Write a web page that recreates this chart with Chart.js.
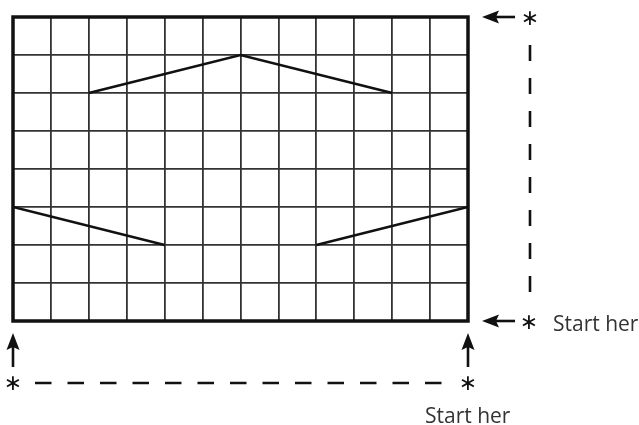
<!DOCTYPE html>
<html>
<head>
<meta charset="utf-8">
<script src="https://cdn.jsdelivr.net/npm/chart.js@4"></script>
<style>
  html, body { margin: 0; padding: 0; background: #fff; }
  canvas { display: block; }
</style>
</head>
<body>
<canvas id="c" width="639" height="425"></canvas>
<script>
// Grid extents (grid units)
const xTicks = [0, 12];
const yTicks = [0, 8];
// Series (grid coordinates)
const upperX = [2, 6, 10];
const upperY = [6, 7, 6];
const leftX = [0, 4];
const leftY = [3, 2];
const rightX = [8, 12];
const rightY = [2, 3];
// Labels
const startLabel = "Start her";
const starLabel = "\u2217";

function pts(xs, ys) { return xs.map((x, i) => ({ x: x, y: ys[i] })); }

const lineStyle = {
  showLine: true, borderColor: '#111', borderWidth: 2.6,
  pointRadius: 0, fill: false, tension: 0
};

function arrow(ctx, x1, y1, x2, y2) {
  // shaft from (x1,y1) to tip (x2,y2)
  const dx = x2 - x1, dy = y2 - y1;
  const len = Math.hypot(dx, dy);
  const ux = dx / len, uy = dy / len;   // direction
  const px = -uy, py = ux;              // perpendicular
  const headLen = 17, headW = 6.5, notch = 3;
  const bx = x2 - headLen * ux, by = y2 - headLen * uy;
  ctx.beginPath();
  ctx.moveTo(x1, y1);
  ctx.lineTo(bx + notch * ux, by + notch * uy);
  ctx.lineWidth = 2.6;
  ctx.strokeStyle = '#111';
  ctx.stroke();
  ctx.beginPath();
  ctx.moveTo(x2, y2);
  ctx.lineTo(bx + headW * px, by + headW * py);
  ctx.lineTo(bx + notch * ux, by + notch * uy);
  ctx.lineTo(bx - headW * px, by - headW * py);
  ctx.closePath();
  ctx.fillStyle = '#111';
  ctx.fill();
}

function star(ctx, x, y) {
  ctx.font = '22px "DejaVu Sans"';
  ctx.fillStyle = '#111';
  ctx.textAlign = 'center';
  ctx.textBaseline = 'middle';
  ctx.fillText(starLabel, x, y + 1);
}

const decor = {
  id: 'decor',
  afterDraw(chart) {
    const ctx = chart.ctx;
    const a = chart.chartArea;
    ctx.save();
    // frame
    ctx.strokeStyle = '#111';
    ctx.lineWidth = 3.5;
    ctx.strokeRect(a.left, a.top, a.right - a.left, a.bottom - a.top);

    // right-side arrows
    arrow(ctx, a.right + 47, a.top, a.right + 14, a.top);
    arrow(ctx, a.right + 47, a.bottom, a.right + 14, a.bottom);
    star(ctx, a.right + 62, a.top + 1);
    star(ctx, a.right + 61, a.bottom + 1);
    // bottom arrows
    arrow(ctx, a.left, a.bottom + 46, a.left, a.bottom + 12);
    arrow(ctx, a.right, a.bottom + 46, a.right, a.bottom + 12);
    star(ctx, a.left, a.bottom + 62);
    star(ctx, a.right, a.bottom + 62);

    // dashed lines
    ctx.strokeStyle = '#111';
    ctx.lineWidth = 2.6;
    ctx.setLineDash([16, 17]);
    ctx.beginPath();
    ctx.moveTo(a.right + 62, a.top + 28);
    ctx.lineTo(a.right + 62, a.bottom - 28);
    ctx.stroke();
    ctx.setLineDash([16.5, 16]);
    ctx.beginPath();
    ctx.moveTo(a.left + 22, a.bottom + 62);
    ctx.lineTo(a.right - 25, a.bottom + 62);
    ctx.stroke();
    ctx.setLineDash([]);

    // labels
    ctx.font = '21px "Open Sans"';
    ctx.fillStyle = '#333';
    ctx.textAlign = 'left';
    ctx.textBaseline = 'alphabetic';
    ctx.fillText(startLabel, a.right + 85, a.bottom + 10);
    ctx.fillText(startLabel, a.right - 43, a.bottom + 102);
    ctx.restore();
  }
};

new Chart(document.getElementById('c'), {
  type: 'scatter',
  data: {
    datasets: [
      Object.assign({ data: pts(upperX, upperY) }, lineStyle),
      Object.assign({ data: pts(leftX, leftY) }, lineStyle),
      Object.assign({ data: pts(rightX, rightY) }, lineStyle)
    ]
  },
  options: {
    responsive: false,
    animation: false,
    devicePixelRatio: 1,
    layout: { padding: { left: 13, right: 171, top: 17, bottom: 104 } },
    plugins: { legend: { display: false }, tooltip: { enabled: false } },
    scales: {
      x: {
        type: 'linear', min: xTicks[0], max: xTicks[1],
        ticks: { display: false, stepSize: 1 },
        grid: { color: '#333', lineWidth: 1.8, drawTicks: false },
        border: { display: false },
        afterFit(s) { s.height = 0; }
      },
      y: {
        type: 'linear', min: yTicks[0], max: yTicks[1],
        ticks: { display: false, stepSize: 1 },
        grid: { color: '#333', lineWidth: 1.8, drawTicks: false },
        border: { display: false },
        afterFit(s) { s.width = 0; }
      }
    }
  },
  plugins: [decor]
});
</script>
</body>
</html>
